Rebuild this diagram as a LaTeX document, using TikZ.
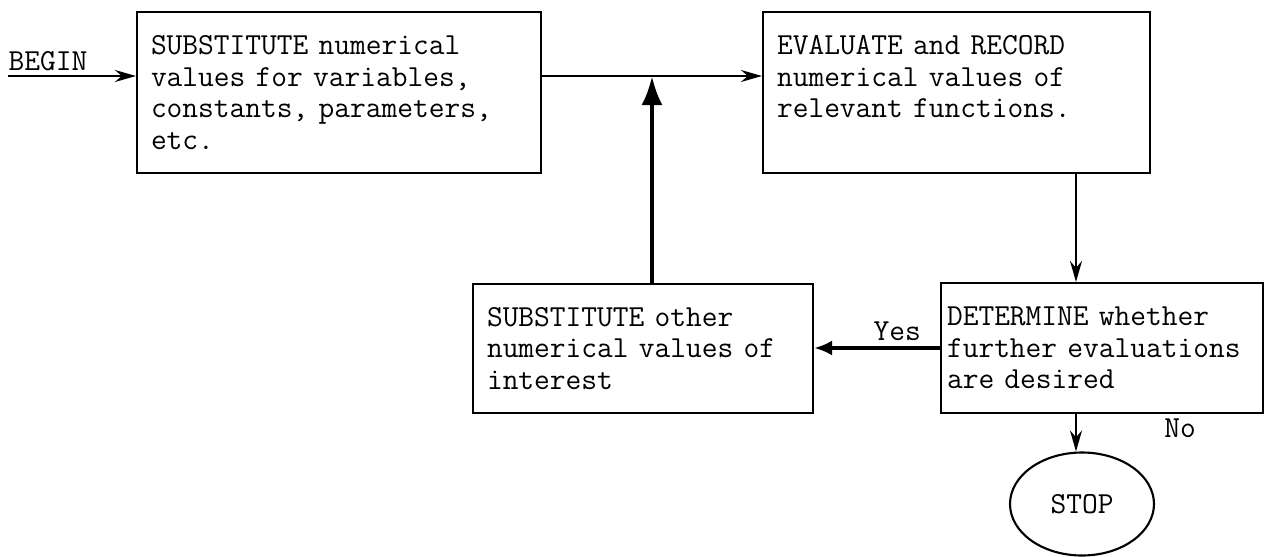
\documentclass[tikz,border=0pt]{standalone}
\usepackage{fontspec}
\usepackage{tikz}
\usetikzlibrary{arrows.meta,shapes.geometric}

\begin{document}
\begin{tikzpicture}[
        box/.style={draw, line width=1.2pt, align=left, inner xsep=0.28cm,
            font=\fontsize{17.4}{17.9}\selectfont\ttfamily},
        tag/.style={font=\fontsize{17.4}{17.9}\selectfont\ttfamily},
        flow/.style={line width=1.2pt, -{Stealth[length=0.42cm,width=0.24cm]}},
        bold/.style={-{Latex[length=0.58cm,width=0.42cm]}}
    ]
        \useasboundingbox (0,0) rectangle (25.28,-11.14);

        % draw the boxes
        \node[box, text width=7.52cm, minimum height=3.22cm] (subst) at (6.78,-1.85)
            {SUBSTITUTE numerical\\values for variables,\\constants, parameters,\\etc.};
        \node[box, text width=7.18cm, minimum height=3.22cm] (eval) at (19.13,-1.85)
            {EVALUATE and RECORD\\numerical values of\\relevant functions.\\\mbox{}};
        \node[box, text width=6.24cm, minimum height=2.58cm] (other) at (12.86,-6.97)
            {SUBSTITUTE other\\numerical values of\\interest};
        \node[box, text width=6.2cm, inner xsep=0.12cm, minimum height=2.6cm] (decide) at (22.04,-6.96)
            {DETERMINE whether\\further evaluations\\are desired};
        \node[draw, ellipse, line width=1.2pt, minimum width=2.88cm, minimum height=2.06cm, tag] (stop) at (21.64,-10.08) {STOP};

        % the texts
        \node[tag] (begin) at (0.96,-1.22) {BEGIN};
        \node[tag] (no) at (23.6,-8.56) {No};

        % points for the lines
        \coordinate (start) at (0.16,-1.52);
        \coordinate (join) at (13.04,-1.52);
        \coordinate (drop) at (21.52,0);

        % draw the arrows
        \draw[flow] (start) -- (start -| subst.west);
        \draw[flow] (start -| subst.east) -- (start -| eval.west);
        \draw[line width=2.4pt, bold] (join |- other.north) -- (join);
        \draw[flow] (eval.south -| drop) -- (decide.north -| drop);
        \draw[line width=2pt, -{Latex[length=0.36cm,width=0.3cm]}] (decide.west) -- (decide.west -| other.east)
            node[pos=0.34, above, tag] (yes) {Yes};
        \draw[flow] (decide.south -| drop) -- (drop |- stop.north);

\end{tikzpicture}
\end{document}
